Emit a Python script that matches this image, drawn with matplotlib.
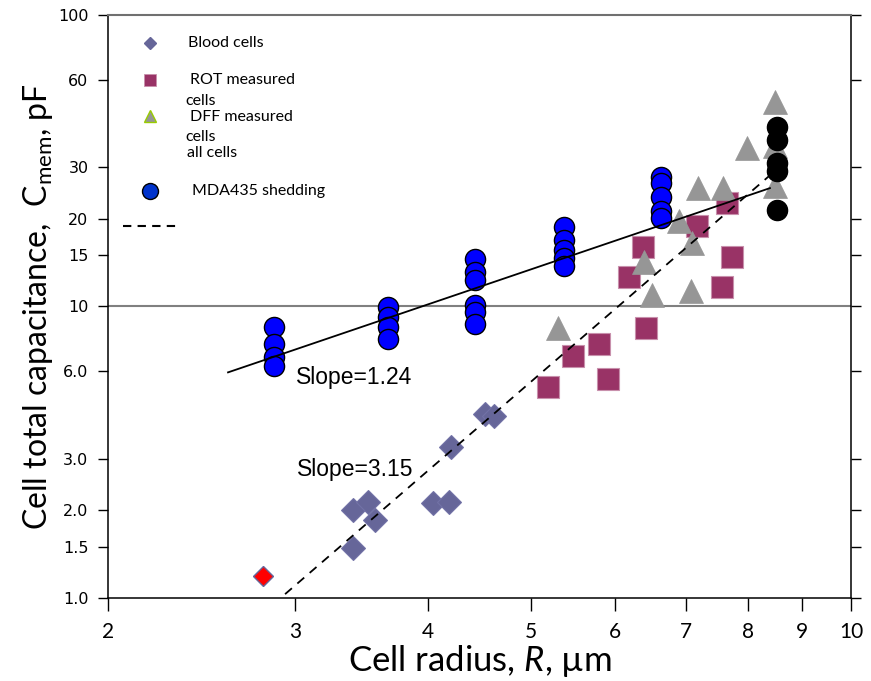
import numpy as np
import matplotlib
matplotlib.use("Agg")
import matplotlib.pyplot as plt

plt.rcParams["mathtext.fontset"] = "custom"
plt.rcParams["mathtext.rm"] = "Lato"
plt.rcParams["mathtext.it"] = "Lato:italic"

# blood cells (diamonds)
blood_r = [3.40, 3.51, 3.57, 3.40, 4.04, 4.19, 4.20, 4.53, 4.61]
blood_c = [2.00, 2.13, 1.85, 1.48, 2.12, 2.13, 3.30, 4.28, 4.21]
red_r = [2.80]
red_c = [1.19]

# ROT measured cells (squares)
rot_r = [5.19, 5.48, 5.79, 5.91, 6.18, 6.37, 6.41, 7.16, 7.56, 7.64, 7.73]
rot_c = [5.30, 6.76, 7.43, 5.64, 12.6, 16.0, 8.44, 18.9, 11.7, 22.6, 14.8]

# DFF measured cells (triangles)
dff_r = [5.30, 6.39, 6.50, 7.07, 6.89, 7.08, 7.18, 7.58, 7.98, 8.48, 8.48, 8.48]
dff_c = [8.44, 14.2, 10.95, 11.3, 19.7, 16.5, 25.5, 25.5, 35.0, 50.3, 35.5, 25.9]

# MDA435 shedding (blue circles), one radius per column
mda_r = [2.865] * 4 + [3.67] * 4 + [4.43] * 6 + [5.37] * 5 + [6.63] * 5
mda_c = [8.51, 7.43, 6.71, 6.25,
         9.96, 9.20, 8.51, 7.74,
         14.6, 13.1, 12.3, 10.1, 9.57, 8.71,
         18.7, 16.9, 15.6, 14.7, 13.8,
         27.8, 26.5, 23.7, 21.3, 20.1]

# largest cells (black circles)
big_r = [8.52] * 5
big_c = [41.3, 37.3, 31.1, 29.2, 21.4]

# power-law fits: C = c0 * (R / r0) ** slope
fit_solid = dict(slope=1.24, r0=4.665, c0=12.3, rmin=2.594, rmax=8.39)
fit_dash = dict(slope=3.15, r0=4.96, c0=5.38, rmin=2.935, rmax=8.39)

xticks = [2, 3, 4, 5, 6, 7, 8, 9, 10]
yticks = [1, 1.5, 2, 3, 6, 10, 15, 20, 30, 60, 100]
ylabels = ["1.0", "1.5", "2.0", "3.0", "6.0", "10", "15", "20", "30", "60", "100"]

fig = plt.figure(figsize=(8.71, 6.81), dpi=100)
ax = fig.add_axes([0.124, 0.122, 0.853, 0.856])
ax.set_xscale("log")
ax.set_yscale("log")
ax.set_xlim(2, 10)
ax.set_ylim(1, 100)

ax.axhline(10, color="#808080", lw=1.5, zorder=1)

ax.plot(blood_r, blood_c, ls="none", marker="D", ms=12, mfc="#666699",
        mec="#7272a6", mew=0.8, zorder=2)
ax.plot(red_r, red_c, ls="none", marker="D", ms=10.5, mfc="#ff0000",
        mec="#666699", mew=1, zorder=2)
ax.plot(rot_r, rot_c, ls="none", marker="s", ms=15.5, mfc="#993366",
        mec="#c890ac", mew=0.8, zorder=3)
ax.plot(dff_r, dff_c, ls="none", marker="^", ms=17, mfc="#969696",
        mec="#969696", mew=0.5, zorder=4)
ax.plot(mda_r, mda_c, ls="none", marker="o", ms=14.5, mfc="#0000ff",
        mec="black", mew=1, zorder=5)
ax.plot(big_r, big_c, ls="none", marker="o", ms=14.5, mfc="black",
        mec="black", mew=1, zorder=5)

for fit, ls in [(fit_solid, "-"), (fit_dash, (0, (5, 4)))]:
    r = np.linspace(fit["rmin"], fit["rmax"], 50)
    c = fit["c0"] * (r / fit["r0"]) ** fit["slope"]
    ax.plot(r, c, color="black", lw=1.3, ls=ls, zorder=6)

ax.text(3.005, 5.42, "Slope=1.24", family="Liberation Sans", fontsize=16.5,
        va="baseline", ha="left", zorder=7)
ax.text(3.01, 2.62, "Slope=3.15", family="Liberation Sans", fontsize=16.5,
        va="baseline", ha="left", zorder=7)

# axes and ticks
ax.xaxis.set_major_locator(matplotlib.ticker.FixedLocator(xticks))
ax.xaxis.set_minor_locator(matplotlib.ticker.NullLocator())
ax.set_xticklabels([str(t) for t in xticks], family="Lato", fontsize=15)
ax.yaxis.set_major_locator(matplotlib.ticker.FixedLocator(yticks))
ax.yaxis.set_minor_locator(matplotlib.ticker.NullLocator())
ax.set_yticklabels(ylabels, family="DejaVu Sans", fontsize=11.5)
ax.tick_params(axis="y", which="major", direction="out", length=7, width=1,
               left=True, right=True, labelright=False, pad=7)
ax.tick_params(axis="x", which="major", direction="out", length=9, width=1,
               top=False, pad=8)
for side in ["left", "right", "bottom"]:
    ax.spines[side].set_linewidth(1.1)
ax.spines["top"].set_color("#707070")
ax.spines["top"].set_linewidth(1.5)

ax.set_ylabel(r"Cell total capacitance,  C$_{\mathrm{mem}}$, pF",
              family="Lato", fontsize=23, labelpad=2)
ax.set_xlabel(r"Cell radius, $\mathit{R}$, µm", family="Lato", fontsize=25,
              labelpad=1)

# hand-placed key in the upper left
tr = ax.transAxes
ax.plot([0.0565], [0.952], transform=tr, ls="none", marker="D", ms=6.5,
        mfc="#666699", mec="#666699", clip_on=False)
ax.plot([0.0565], [0.889], transform=tr, ls="none", marker="s", ms=8,
        mfc="#993366", mec="#c890ac", mew=0.6, clip_on=False)
ax.plot([0.0565], [0.826], transform=tr, ls="none", marker="^", ms=9,
        mfc="#969696", mec="#99cc00", mew=1, clip_on=False)
ax.plot([0.0565], [0.698], transform=tr, ls="none", marker="o", ms=11.5,
        mfc="#0033cc", mec="black", mew=1, clip_on=False)
ax.plot([0.020, 0.092], [0.638, 0.638], transform=tr, color="black", lw=1.5,
        ls=(0, (4, 3)))

key_font = dict(family="Lato", fontsize=11.5, va="center", ha="left",
                transform=tr)
ax.text(0.108, 0.952, "Blood cells", **key_font)
ax.text(0.111, 0.888, "ROT measured", **key_font)
ax.text(0.104, 0.852, "cells", **key_font)
ax.text(0.111, 0.825, "DFF measured", **key_font)
ax.text(0.104, 0.791, "cells", **key_font)
ax.text(0.106, 0.763, "all cells", **key_font)
ax.text(0.113, 0.698, "MDA435 shedding", **key_font)

fig.savefig("out.png", dpi=100)
